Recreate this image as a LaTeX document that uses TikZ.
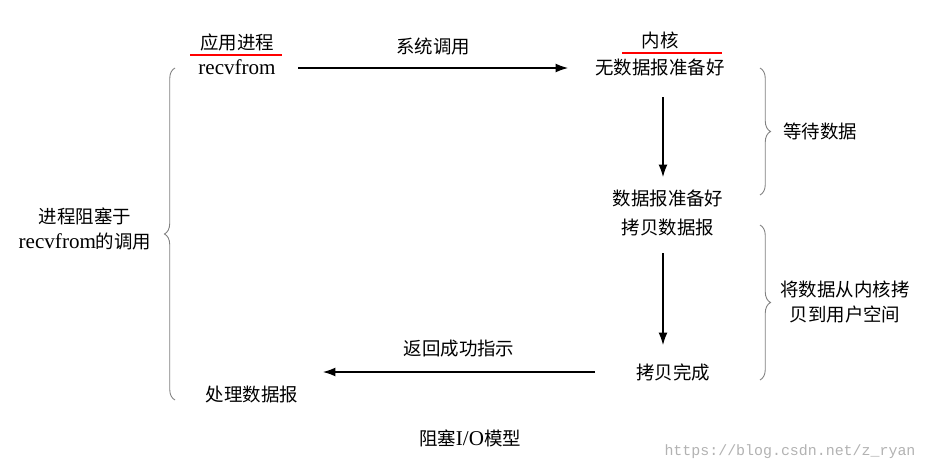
\documentclass[tikz,border=0pt]{standalone}
\usepackage{fontspec}
\setmainfont{Liberation Serif}
\newfontfamily\cjk{Noto Sans CJK SC}
\setmonofont{Liberation Mono}
\usetikzlibrary{arrows.meta,decorations.pathreplacing}
\begin{document}
\begin{tikzpicture}[x=0.02cm,y=-0.02cm]
  \tikzset{every node/.style={inner sep=0pt,font=\fontsize{10.5}{12}\selectfont\cjk},
    flow/.style={-{Latex[length=7pt,width=5pt]},line width=0.6pt},
    under/.style={red,line width=0.6pt},
    bracket/.style={gray,line width=0.5pt,decorate,decoration={brace,amplitude=6pt}}}
  \useasboundingbox (0,0) rectangle (948,470);
  % user side
  \node (app) at (237,42) {应用进程};
  \node (recv) at (237,67) {\rmfamily\large recvfrom};
  \node (done) at (252,395) {处理数据报};
  % kernel side
  \node (kern) at (660,40) {内核};
  \node (nodata) at (660,67) {无数据报准备好};
  \node (ready) at (668,198) {数据报准备好};
  \node (copy) at (668,228) {拷贝数据报};
  \node (fin) at (673,372) {拷贝完成};
  \draw[under] (190,55) -- (282,55);
  \draw[under] (622,53) -- (722,53);
  % calls
  \draw[flow] (298,68) -- node[above=7pt] {系统调用} (568,68);
  \draw[flow] (663,97) -- (663,177);
  \draw[flow] (663,253) -- (663,345);
  \draw[flow] (595,372) -- node[above=8pt] {返回成功指示} (323,372);
  % braces
  \draw[bracket] (175,400) -- (175,68);
  \node[align=center,font=\fontsize{10.5}{14}\selectfont\cjk] (block) at (85,229) {进程阻塞于\\{\rmfamily\large recvfrom}的调用};
  \draw[bracket] (760,68) -- (760,195);
  \node (wait) at (820,131) {等待数据};
  \draw[bracket] (760,225) -- (760,380);
  \node[align=center,font=\fontsize{10.5}{14}\selectfont\cjk] (move) at (845,302) {将数据从内核拷\\贝到用户空间};
  % caption
  \node (cap) at (470,438) {阻塞{\rmfamily\large I/O}模型};
  \node[text=gray!60,font=\fontsize{8.5}{10}\selectfont\ttfamily] (mark) at (790,452) {https://blog.csdn.net/z\_ryan};
\end{tikzpicture}
\end{document}
